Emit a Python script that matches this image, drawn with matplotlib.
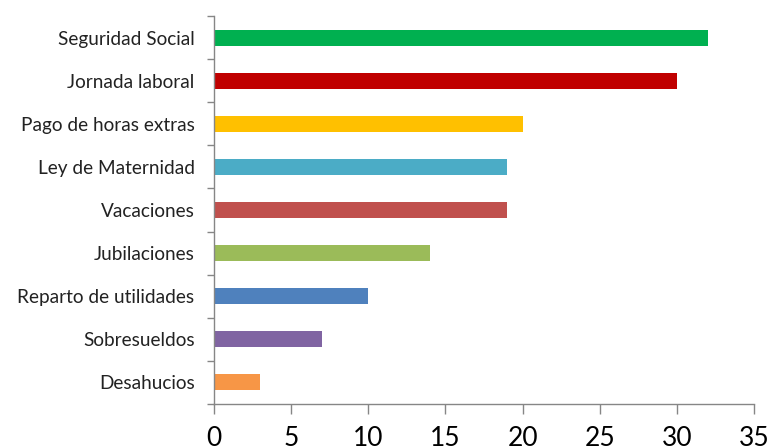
import numpy as np
import matplotlib.pyplot as plt

# datos (de abajo hacia arriba)
categorias = ['Desahucios', 'Sobresueldos', 'Reparto de utilidades', 'Jubilaciones',
              'Vacaciones', 'Ley de Maternidad', 'Pago de horas extras',
              'Jornada laboral', 'Seguridad Social']
valores = [3, 7, 10, 14, 19, 19, 20, 30, 32]
colores = ['#F79646', '#8064A2', '#4F81BD', '#9BBB59', '#C0504D',
           '#4BACC6', '#FFC000', '#C00000', '#00B050']

plt.rcParams['font.family'] = ['Lato', 'DejaVu Sans']

fig = plt.figure(figsize=(7.69, 4.48), dpi=100)
ax = fig.add_axes([0.2783, 0.0982, 0.7022, 0.8661])

y = np.arange(len(categorias))
ax.barh(y, valores, height=0.37, color=colores)

ax.set_xlim(0, 35)
ax.set_ylim(-0.5, len(categorias) - 0.5)
ax.set_xticks(np.arange(0, 36, 5))
ax.set_yticks(y)
ax.set_yticklabels(categorias, fontsize=13.7, color='#222222')
ax.set_yticks(np.arange(-0.5, len(categorias), 1), minor=True)
ax.tick_params(axis='y', which='major', length=0, pad=14)
ax.tick_params(axis='y', which='minor', length=5, color='#868686', width=1)
ax.tick_params(axis='x', length=7, color='#868686', width=1, labelsize=19, pad=9)

for s in ['top', 'right']:
    ax.spines[s].set_visible(False)
for s in ['left', 'bottom']:
    ax.spines[s].set_color('#868686')
    ax.spines[s].set_linewidth(1)

plt.savefig('out.png', dpi=100)
